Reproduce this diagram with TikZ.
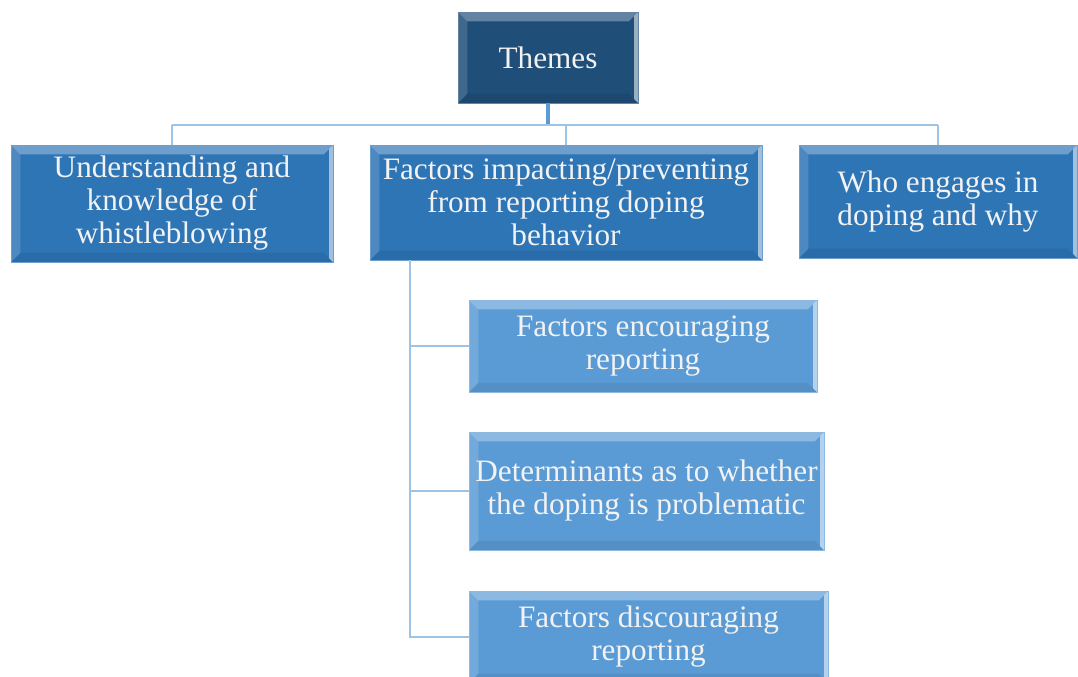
\documentclass[tikz,border=0pt]{standalone}
\usepackage{fontspec}
\setmainfont{Liberation Serif}
\definecolor{navy}{RGB}{31,78,121}
\definecolor{midblue}{RGB}{46,117,182}
\definecolor{paleblue}{RGB}{91,155,213}
\definecolor{linkblue}{RGB}{157,195,230}
\tikzset{
  bevel/.style={path picture={
    % top and left light, bottom dark, thin bright right edge
    \fill[white,opacity=0.30] (path picture bounding box.north west) -- (path picture bounding box.north east)
      -- ([shift={(-7pt,-7pt)}]path picture bounding box.north east) -- ([shift={(7pt,-7pt)}]path picture bounding box.north west) -- cycle;
    \fill[white,opacity=0.15] (path picture bounding box.north west) -- ([shift={(7pt,-7pt)}]path picture bounding box.north west)
      -- ([shift={(7pt,7pt)}]path picture bounding box.south west) -- (path picture bounding box.south west) -- cycle;
    \fill[black,opacity=0.07] (path picture bounding box.south west) -- ([shift={(7pt,7pt)}]path picture bounding box.south west)
      -- ([shift={(-7pt,7pt)}]path picture bounding box.south east) -- (path picture bounding box.south east) -- cycle;
    \fill[white,opacity=0.55] (path picture bounding box.north east) -- ([shift={(-3pt,-3pt)}]path picture bounding box.north east)
      -- ([shift={(-3pt,3pt)}]path picture bounding box.south east) -- (path picture bounding box.south east) -- cycle;
  }},
  box/.style={draw=#1!70!white, line width=0.6pt, fill=#1, text=white!95!black, align=center,
    inner sep=0pt, font=\fontsize{23.4}{24.75}\selectfont, bevel},
  link/.style={draw=linkblue, line width=2.2pt},
}
\begin{document}
\begin{tikzpicture}[x=0.75pt,y=-0.75pt]
\useasboundingbox (0,0) rectangle (1078,676);
\clip (0,0) rectangle (1078,676);

% Nodes
\node[box=navy, minimum width=135pt, minimum height=68.25pt] (themes) at (548,57.5) {Themes};
\node[box=midblue, minimum width=241.5pt, minimum height=87.75pt] (understanding) at (172,203.5) {Understanding and\\knowledge of\\whistleblowing};
\node[box=midblue, minimum width=294pt, minimum height=86.25pt] (factors) at (566,202.5) {Factors impacting/preventing\\from reporting doping\\behavior};
\node[box=midblue, minimum width=208.5pt, minimum height=84.75pt] (who) at (938,201.5) {Who engages in\\doping and why};
\node[box=paleblue, minimum width=261pt, minimum height=69pt] (encouraging) at (643,346) {Factors encouraging\\reporting};
\node[box=paleblue, minimum width=266.25pt, minimum height=88.5pt] (determinants) at (646.5,491) {Determinants as to whether\\the doping is problematic};
\node[box=paleblue, minimum width=269.25pt, minimum height=69pt] (discouraging) at (648.5,637) {Factors discouraging\\reporting};

% Connectors
\coordinate (bus) at (0,125);
\coordinate (spine) at (410,0);
\draw[link, draw=paleblue, line width=3pt] (themes.south) -- (themes.south |- bus);
\draw[link] (understanding.north |- bus) -- (who.north |- bus);
\draw[link] (understanding.north |- bus) -- (understanding.north);
\draw[link] (factors.north |- bus) -- (factors.north);
\draw[link] (who.north |- bus) -- (who.north);
\draw[link] (factors.south -| spine) -- (discouraging.west -| spine) -- (discouraging.west);
\draw[link] (encouraging.west -| spine) -- (encouraging.west);
\draw[link] (determinants.west -| spine) -- (determinants.west);

\end{tikzpicture}
\end{document}
